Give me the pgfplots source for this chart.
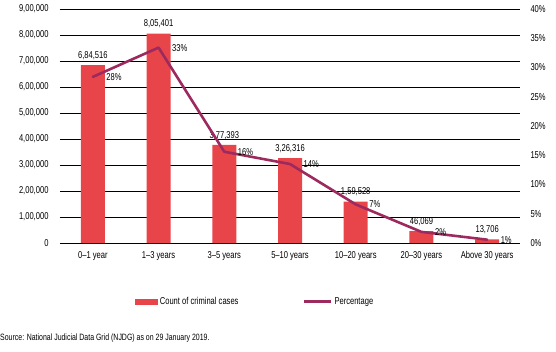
\documentclass[border=0pt]{standalone}
\usepackage{pgfplots}
\usepackage{pgfplotstable}
\pgfplotsset{compat=1.18}
\usepackage{fontspec}
\setmainfont{Liberation Sans}[FakeStretch=0.76]
\definecolor{barred}{HTML}{E8454A}
\definecolor{linepurple}{HTML}{9C2A5E}

\pgfplotstableread{
x count label
0 684516 6,84,516
1 805401 8,05,401
2 377393 3,77,393
3 326316 3,26,316
4 159528 1,59,528
5 46069 46,069
6 13706 13,706
}\counttable

\pgfplotstableread{
x pct lab
0 28.4 28
1 33.4 33
2 15.6 16
3 13.5 14
4 6.6 7
5 1.9 2
6 0.57 1
}\pcttable

\newcommand{\chf}{\fontsize{10pt}{12pt}\selectfont}
\begin{document}
\chf
\begin{tikzpicture}
\begin{axis}[
  scale only axis, width=460bp, height=234bp,
  xmin=-0.5, xmax=6.5, ymin=0, ymax=900000,
  scaled y ticks=false,
  axis line style={draw=none},
  tick style={draw=none},
  ymajorgrids, grid style={black, line width=0.9pt},
  ytick={0,100000,200000,300000,400000,500000,600000,700000,800000,900000},
  yticklabels={{0},{1,00,000},{2,00,000},{3,00,000},{4,00,000},{5,00,000},{6,00,000},{7,00,000},{8,00,000},{9,00,000}},
  xtick={0,1,2,3,4,5,6},
  xticklabels={0--1 year,1--3 years,3--5 years,5--10 years,10--20 years,20--30 years,Above 30 years},
  ticklabel style={font=\chf},
  yticklabel style={xshift=-8bp},
  xticklabel style={yshift=-5bp},
  legend style={at={(0.424,-0.25)}, anchor=center, draw=none, fill=none,
    legend columns=2, font=\chf,
    /tikz/every even column/.append style={column sep=62bp}},
  legend cell align=left,
]
\addplot[ybar, bar width=24bp, fill=barred, draw=none,
  point meta=explicit symbolic,
  nodes near coords, nodes near coords style={font=\chf, yshift=2bp},
  legend image code/.code={\fill[barred] (0bp,-3bp) rectangle (23bp,3bp);}]
  table[x=x, y=count, meta=label] {\counttable};
\addlegendentry{Count of criminal cases}
\addlegendimage{linepurple, line width=3pt, legend image code/.code={\draw[linepurple, line width=3pt] (0bp,0bp) -- (27bp,0bp);}}
\addlegendentry{Percentage}
\end{axis}
\begin{axis}[
  scale only axis, width=460bp, height=234bp,
  xmin=-0.5, xmax=6.5, ymin=0, ymax=40,
  axis x line=none,
  axis y line*=right,
  axis line style={draw=none},
  tick style={draw=none},
  ytick={0,5,10,15,20,25,30,35,40},
  yticklabels={0\%,5\%,10\%,15\%,20\%,25\%,30\%,35\%,40\%},
  ticklabel style={font=\chf},
  yticklabel style={xshift=7bp},
]
\addplot[linepurple, line width=2.6pt, line join=round, line cap=round,
  point meta=explicit symbolic,
  nodes near coords={\pgfplotspointmeta\%},
  nodes near coords style={anchor=west, xshift=9bp, font=\chf, text=black}]
  table[x=x, y=pct, meta=lab] {\pcttable};
\end{axis}
\node[anchor=west, inner sep=0pt, font=\fontsize{9.2pt}{11pt}\selectfont] at (-60bp,-95bp) {Source: National Judicial Data Grid (NJDG) as on 29 January 2019.};
\path[use as bounding box] (-60bp,-109bp) rectangle (496bp,243bp);
\end{tikzpicture}
\end{document}
